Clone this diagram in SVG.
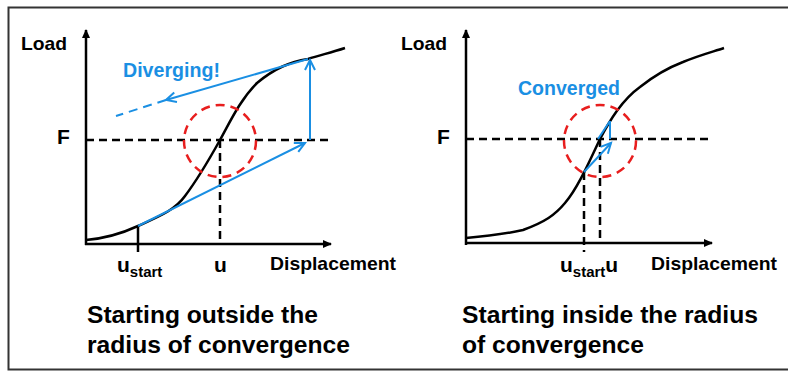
<svg xmlns="http://www.w3.org/2000/svg" width="788" height="371" viewBox="0 0 788 371">
<defs>
<marker id="axisArrow" markerWidth="10" markerHeight="10" refX="8" refY="4" orient="auto" markerUnits="userSpaceOnUse">
<path d="M0,0 L9,4 L0,8 Z" fill="#000"/>
</marker>
<marker id="blueArrow" markerWidth="14" markerHeight="14" refX="11" refY="6" orient="auto" markerUnits="userSpaceOnUse">
<path d="M1,1 L11,6 L1,11" fill="none" stroke="#1a8fe3" stroke-width="2"/>
</marker>
</defs>
<style>
text { font-family: "Liberation Sans", Arial, sans-serif; font-weight: bold; fill: #000; }
.lbl { font-size: 19px; }
.u { font-size: 21px; }
.sub { font-size: 15px; }
.big { font-size: 21px; }
.cap { font-size: 23px; }
.blue { fill: #1a8fe3; font-size: 19.5px; }
.axis { stroke: #000; stroke-width: 2.5; fill: none; }
.curve { stroke: #000; stroke-width: 2.5; fill: none; }
.dash { stroke: #000; stroke-width: 2.5; stroke-dasharray: 8 5; fill: none; }
.circ { stroke: #e81e1e; stroke-width: 2.5; stroke-dasharray: 9 6; fill: none; }
.bl { stroke: #1a8fe3; stroke-width: 2; fill: none; }
</style>
<rect x="8.5" y="7.5" width="790" height="362" fill="#fff" stroke="#333" stroke-width="2"/>

<g id="left-chart">
<g id="left-axes">
<line class="axis" x1="86" y1="245" x2="86" y2="30" marker-end="url(#axisArrow)"/>
<line class="axis" x1="85" y1="244" x2="331" y2="244" marker-end="url(#axisArrow)"/>
<text class="lbl" x="21" y="50" textLength="46" lengthAdjust="spacingAndGlyphs">Load</text>
<text class="lbl" x="270" y="270" textLength="126" lengthAdjust="spacingAndGlyphs">Displacement</text>
</g>
<g id="left-guides">
<line class="dash" x1="86" y1="140" x2="330" y2="140"/>
<line class="dash" x1="220" y1="140" x2="220" y2="244"/>
<line class="axis" x1="138" y1="226" x2="138" y2="252"/>
<text class="big" x="57" y="144">F</text>
<text class="u" x="117" y="272">u<tspan class="sub" dy="5">start</tspan></text>
<text class="u" x="214" y="272">u</text>
</g>
<g id="left-curve">
<path class="curve" d="M86,240 C110,238 125,232 138,226 C160,216 175,210 185,196 C200,176 210,158 220,140 C230,122 240,100 257,83 C275,68 290,62 308,59 C320,55 330,53 345,48"/>
</g>
<g id="left-circle">
<circle class="circ" cx="220" cy="141" r="36"/>
</g>
<g id="left-connectors">
<line class="bl" x1="138" y1="226" x2="305" y2="143" marker-end="url(#blueArrow)"/>
<line class="bl" x1="310" y1="140" x2="310" y2="60" marker-end="url(#blueArrow)"/>
<line class="bl" x1="308" y1="59" x2="166" y2="100" marker-end="url(#blueArrow)"/>
<line class="bl" x1="166" y1="100" x2="116" y2="116" stroke-dasharray="9 6"/>
</g>
<text class="blue" x="123" y="77" textLength="97" lengthAdjust="spacingAndGlyphs">Diverging!</text>
</g>

<g id="right-chart">
<g id="right-axes">
<line class="axis" x1="466" y1="245" x2="466" y2="30" marker-end="url(#axisArrow)"/>
<line class="axis" x1="465" y1="243" x2="712" y2="243" marker-end="url(#axisArrow)"/>
<text class="lbl" x="401" y="50" textLength="46" lengthAdjust="spacingAndGlyphs">Load</text>
<text class="lbl" x="651" y="270" textLength="126" lengthAdjust="spacingAndGlyphs">Displacement</text>
</g>
<g id="right-guides">
<line class="dash" x1="466" y1="139" x2="710" y2="139"/>
<line class="dash" x1="584" y1="172" x2="584" y2="252"/>
<line class="dash" x1="600" y1="139" x2="600" y2="243"/>
<text class="big" x="437" y="144">F</text>
<text class="u" x="560" y="272">u<tspan class="sub" dy="5">start</tspan><tspan dy="-5">u</tspan></text>
</g>
<g id="right-curve">
<path class="curve" d="M466,238 C490,236 505,234 523,230 C545,222 555,215 565,203 C578,188 590,160 600,139 C610,120 622,100 640,87 C655,75 670,67 683,62 C700,55 712,52 724,48"/>
</g>
<g id="right-circle">
<circle class="circ" cx="600" cy="141" r="36"/>
</g>
<g id="right-connectors">
<line class="bl" x1="584" y1="172" x2="611" y2="143" marker-end="url(#blueArrow)"/>
<line class="bl" x1="610" y1="139" x2="610" y2="121" stroke-width="3"/>
<line class="bl" x1="610" y1="121" x2="598" y2="139"/>
</g>
<text class="blue" x="518" y="95" textLength="102" lengthAdjust="spacingAndGlyphs">Converged</text>
</g>

<g id="captions">
<text class="cap" x="87" y="323" textLength="231" lengthAdjust="spacingAndGlyphs">Starting outside the</text>
<text class="cap" x="87" y="353" textLength="263" lengthAdjust="spacingAndGlyphs">radius of convergence</text>
<text class="cap" x="462" y="323" textLength="296" lengthAdjust="spacingAndGlyphs">Starting inside the radius</text>
<text class="cap" x="462" y="353" textLength="182" lengthAdjust="spacingAndGlyphs">of convergence</text>
</g>
</svg>
